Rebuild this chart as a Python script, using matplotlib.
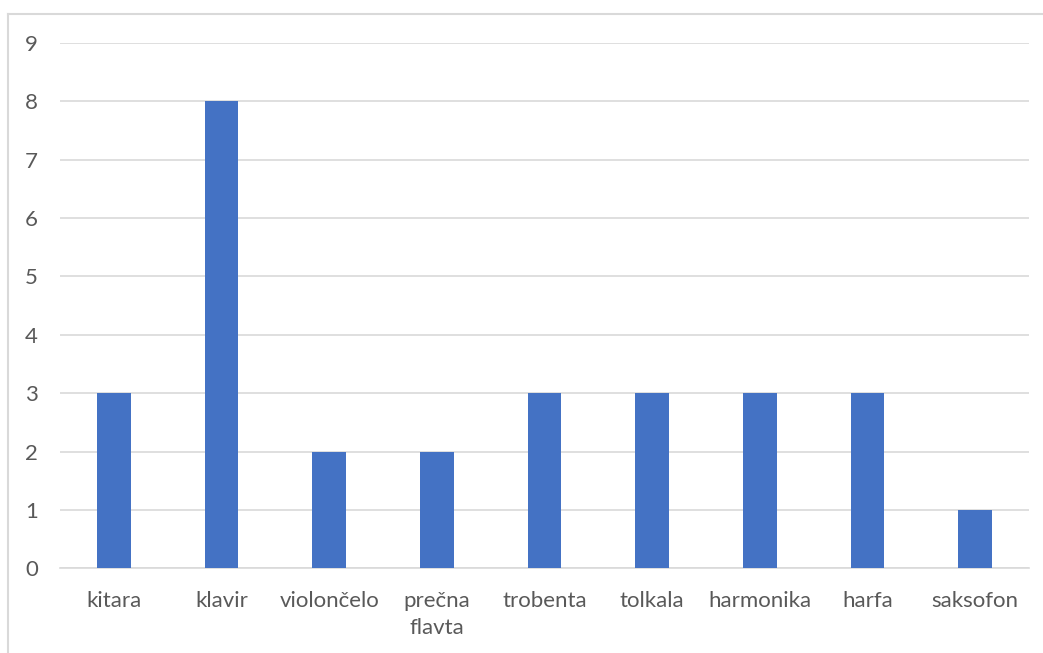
import matplotlib
matplotlib.use("Agg")
import matplotlib.pyplot as plt
from matplotlib.lines import Line2D

# instrumenti in število učencev
instrumenti = ["kitara", "klavir", "violončelo", "prečna\nflavta", "trobenta",
               "tolkala", "harmonika", "harfa", "saksofon"]
stevilo = [3, 8, 2, 2, 3, 3, 3, 3, 1]
y_ticks = list(range(0, 10))

plt.rcParams['font.family'] = ['Lato', 'DejaVu Sans']

W, H = 1043, 653
fig = plt.figure(figsize=(W / 100, H / 100), dpi=100)
ax = fig.add_axes([60 / W, (H - 568.3) / H, (1029 - 60) / W, (568.3 - 42.7) / H])

x = list(range(len(instrumenti)))
ax.bar(x, stevilo, width=0.31, color="#4472C4", zorder=3)

ax.set_xlim(-0.5, len(instrumenti) - 0.5)
ax.set_ylim(0, 9)
ax.set_yticks(y_ticks)
ax.set_xticks(x)
ax.set_xticklabels(instrumenti, linespacing=1.45)

ax.yaxis.grid(True, color="#d9d9d9", linewidth=1.2, zorder=0)
for side in ["top", "right", "left"]:
    ax.spines[side].set_visible(False)
ax.spines["bottom"].set_color("#d9d9d9")
ax.spines["bottom"].set_linewidth(1.2)
ax.tick_params(axis="both", length=0, labelsize=16, colors="#595959")
ax.tick_params(axis="y", pad=16)
ax.tick_params(axis="x", pad=16)

# okvir grafikona
fig.add_artist(Line2D([8 / W, 8 / W], [0, 1 - 14 / H], color="#d9d9d9", linewidth=1.5))
fig.add_artist(Line2D([8 / W, 1], [1 - 14 / H, 1 - 14 / H], color="#d9d9d9", linewidth=1.5))

fig.savefig("out.png", dpi=100)
